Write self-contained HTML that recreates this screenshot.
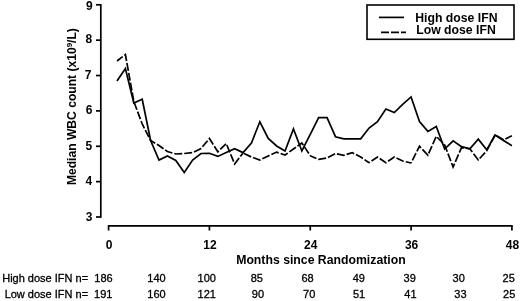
<!DOCTYPE html>
<html><head><meta charset="utf-8"><style>
html,body{margin:0;padding:0;background:#fff;width:520px;height:301px;overflow:hidden}
svg{display:block;will-change:transform}
text{font-family:"Liberation Sans",sans-serif;fill:#000}
.b{font-weight:bold;font-size:12px}
.r{font-size:11px;stroke:#000;stroke-width:0.3px}
</style></head><body>
<svg width="520" height="301" viewBox="0 0 520 301">
<rect width="520" height="301" fill="#fff"/>

<line x1="100.8" y1="4.00" x2="100.8" y2="217.80" stroke="#000" stroke-width="1.7"/>
<line x1="96" y1="217.00" x2="100.8" y2="217.00" stroke="#000" stroke-width="1.7"/>
<text class="b" x="92.50" y="220.70" text-anchor="end">3</text>
<line x1="96" y1="181.63" x2="100.8" y2="181.63" stroke="#000" stroke-width="1.7"/>
<text class="b" x="92.10" y="185.43" text-anchor="end">4</text>
<line x1="96" y1="146.27" x2="100.8" y2="146.27" stroke="#000" stroke-width="1.7"/>
<text class="b" x="92.30" y="149.77" text-anchor="end">5</text>
<line x1="96" y1="110.90" x2="100.8" y2="110.90" stroke="#000" stroke-width="1.7"/>
<text class="b" x="92.40" y="114.00" text-anchor="end">6</text>
<line x1="96" y1="75.53" x2="100.8" y2="75.53" stroke="#000" stroke-width="1.7"/>
<text class="b" x="91.50" y="79.33" text-anchor="end">7</text>
<line x1="96" y1="40.17" x2="100.8" y2="40.17" stroke="#000" stroke-width="1.7"/>
<text class="b" x="92.20" y="43.47" text-anchor="end">8</text>
<line x1="96" y1="4.80" x2="100.8" y2="4.80" stroke="#000" stroke-width="1.7"/>
<text class="b" x="92.60" y="9.60" text-anchor="end">9</text>
<line x1="107.80" y1="225.8" x2="512.70" y2="225.8" stroke="#000" stroke-width="1.7"/>
<line x1="108.60" y1="225.8" x2="108.60" y2="230.5" stroke="#000" stroke-width="1.7"/>
<text class="b" x="109.10" y="248.8" text-anchor="middle">0</text>
<line x1="209.42" y1="225.8" x2="209.42" y2="230.5" stroke="#000" stroke-width="1.7"/>
<text class="b" x="209.92" y="248.8" text-anchor="middle">12</text>
<line x1="310.25" y1="225.8" x2="310.25" y2="230.5" stroke="#000" stroke-width="1.7"/>
<text class="b" x="310.75" y="248.8" text-anchor="middle">24</text>
<line x1="411.07" y1="225.8" x2="411.07" y2="230.5" stroke="#000" stroke-width="1.7"/>
<text class="b" x="411.57" y="248.8" text-anchor="middle">36</text>
<line x1="511.90" y1="225.8" x2="511.90" y2="230.5" stroke="#000" stroke-width="1.7"/>
<text class="b" x="512.40" y="248.8" text-anchor="middle">48</text>
<text class="b" x="236.2" y="264.3" style="font-size:12.25px">Months since Randomization</text>
<text class="b" transform="translate(76.0,106.6) rotate(-90)" text-anchor="middle" style="font-size:12.1px">Median WBC count (x10<tspan font-size="8" dy="-4.5">9</tspan><tspan dy="4.5">/L)</tspan></text>
<polyline points="117.00,81.00 125.40,68.50 133.81,103.00 142.21,99.30 150.61,140.50 159.01,160.00 167.41,156.00 175.82,160.50 184.22,172.50 192.62,160.00 201.02,153.50 209.42,153.30 217.83,156.40 226.23,152.50 234.63,148.70 243.03,152.60 251.44,143.00 259.84,121.80 268.24,138.50 276.64,146.00 285.04,151.00 293.45,129.00 301.85,151.00 310.25,134.40 318.65,117.70 327.05,117.70 335.46,136.70 343.86,138.80 352.26,138.80 360.66,138.80 369.06,128.00 377.47,121.70 385.87,109.00 394.27,112.50 402.67,104.40 411.07,96.90 419.48,121.50 427.88,131.40 436.28,126.50 444.68,149.00 453.09,140.80 461.49,146.60 469.89,148.80 478.29,139.20 486.69,149.80 495.10,135.00 503.50,140.50 511.90,145.80" fill="none" stroke="#000" stroke-width="1.7" stroke-linejoin="miter"/>
<polyline points="117.00,61.00 125.40,54.50 133.81,101.50 142.21,124.00 150.61,140.50" fill="none" stroke="#000" stroke-width="1.7" stroke-dasharray="8 2" stroke-dashoffset="0.80" stroke-linejoin="miter"/>
<polyline points="150.61,140.50 159.01,145.50 167.41,151.50 175.82,154.00 184.22,153.50 192.62,152.60 201.02,148.50 209.42,138.50 217.83,151.80 226.23,143.50 234.63,164.00 243.03,153.00" fill="none" stroke="#000" stroke-width="1.7" stroke-dasharray="8 2" stroke-dashoffset="2.70" stroke-linejoin="miter"/>
<polyline points="243.03,153.00 251.44,157.00 259.84,160.00 268.24,156.00 276.64,152.10 285.04,155.00 293.45,149.00 301.85,143.00 310.25,155.70" fill="none" stroke="#000" stroke-width="1.7" stroke-dasharray="8 2" stroke-dashoffset="8.99" stroke-linejoin="miter"/>
<polyline points="310.25,155.70 318.65,159.40 327.05,158.00 335.46,153.50 343.86,155.30 352.26,152.70 360.66,157.00 369.06,162.70" fill="none" stroke="#000" stroke-width="1.7" stroke-dasharray="8 2" stroke-dashoffset="1.25" stroke-linejoin="miter"/>
<polyline points="369.06,162.70 377.47,157.00 385.87,162.70 394.27,157.00 402.67,161.00 411.07,163.00" fill="none" stroke="#000" stroke-width="1.7" stroke-dasharray="8 2" stroke-dashoffset="7.06" stroke-linejoin="miter"/>
<polyline points="411.07,163.00 419.48,146.30 427.88,155.20 436.28,136.30 444.68,145.00 453.09,167.00 461.49,147.60 469.89,148.80 478.29,160.00 486.69,150.80 495.10,135.00 503.50,139.80 511.90,135.80" fill="none" stroke="#000" stroke-width="1.7" stroke-dasharray="8 2" stroke-dashoffset="7.06" stroke-linejoin="miter"/>
<rect x="367" y="5" width="147" height="34.3" fill="none" stroke="#000" stroke-width="1.6"/>
<line x1="379" y1="17.4" x2="404" y2="17.4" stroke="#000" stroke-width="1.7"/>
<line x1="381" y1="32.4" x2="406" y2="32.4" stroke="#000" stroke-width="1.7" stroke-dasharray="8 2"/>
<text class="b" x="415.2" y="22.2" style="font-size:12.25px">High dose IFN</text>
<text class="b" x="416.2" y="33.7" style="font-size:12.25px">Low dose IFN</text>
<text class="r" x="88.1" y="282.4" text-anchor="end">High dose IFN n=</text>
<text class="r" x="88.1" y="298.3" text-anchor="end">Low dose IFN n=</text>
<text class="r" x="103.5" y="282.2" text-anchor="middle">186</text>
<text class="r" x="103.3" y="298.3" text-anchor="middle">191</text>
<text class="r" x="156.5" y="282.2" text-anchor="middle">140</text>
<text class="r" x="156.5" y="298.3" text-anchor="middle">160</text>
<text class="r" x="206.8" y="282.2" text-anchor="middle">100</text>
<text class="r" x="206.8" y="298.3" text-anchor="middle">121</text>
<text class="r" x="256.8" y="282.2" text-anchor="middle">85</text>
<text class="r" x="257.9" y="298.3" text-anchor="middle">90</text>
<text class="r" x="307.5" y="282.2" text-anchor="middle">68</text>
<text class="r" x="309.2" y="298.3" text-anchor="middle">70</text>
<text class="r" x="358.8" y="282.2" text-anchor="middle">49</text>
<text class="r" x="359.0" y="298.3" text-anchor="middle">51</text>
<text class="r" x="409.7" y="282.2" text-anchor="middle">39</text>
<text class="r" x="410.4" y="298.3" text-anchor="middle">41</text>
<text class="r" x="458.7" y="282.2" text-anchor="middle">30</text>
<text class="r" x="460.4" y="298.3" text-anchor="middle">33</text>
<text class="r" x="508.7" y="282.2" text-anchor="middle">25</text>
<text class="r" x="509.2" y="298.3" text-anchor="middle">25</text>
</svg></body></html>
